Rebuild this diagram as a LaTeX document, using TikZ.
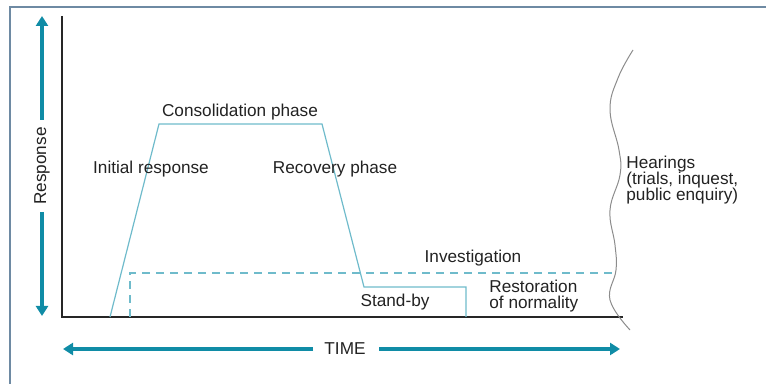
\documentclass[tikz,border=0pt]{standalone}
\usepackage{fontspec}
\setmainfont{Liberation Sans}
\usepackage{tikz}
\usetikzlibrary{arrows.meta}
\definecolor{framecol}{HTML}{6E8AA3}
\definecolor{arrowcol}{HTML}{108CA6}
\definecolor{phasecol}{HTML}{6FBBCB}
\definecolor{txtcol}{HTML}{222222}

\begin{document}
\begin{tikzpicture}[x=0.5pt, y=-0.5pt,
  lbl/.style={font=\fontsize{8.6}{8.2}\selectfont, text=txtcol, inner sep=0pt},
  axisarrow/.style={arrowcol, line width=1.8pt, -{Triangle[length=5pt,width=6pt]}}]
\useasboundingbox (0,0) rectangle (766,384);

% ---------------------------------------------------------------- frame
\draw[framecol, line width=0.6pt] (10,384) -- (10,7) -- (766,7);

% ---------------------------------------------------------------- axes
\coordinate (origin) at (62,317);
\coordinate (ytop) at (62,16);
\coordinate (xend) at (623,317);
\draw[black!85, line width=1.3pt] (ytop) -- (origin) -- (xend);

% response arrow, broken by its label
\node[lbl, rotate=90] (resp) at (42,166) {Response};
\draw[axisarrow] (42,120) -- (42,16);
\draw[axisarrow] (42,212) -- (42,316);

% time arrow, broken by its label
\node[lbl] (time) at (345,349) {TIME};
\draw[axisarrow] (313,349) -- (63,349);
\draw[axisarrow] (379,349) -- (620,349);

% ------------------------------------------------------- the response curve
\draw[phasecol, line width=0.6pt] (110,317) -- (159,124) -- (322,124)
  -- (364,287) -- (466,287) -- (466,317);

% investigation, dashed
\draw[phasecol, line width=0.6pt, dash pattern=on 4pt off 3pt]
  (130,317) -- (130,273) -- (613,273);

% hearings boundary, wavy
\draw[black!45, line width=0.5pt] plot[smooth, tension=0.7] coordinates
  {(633,50) (618,78) (610,110) (619,150) (620,175) (610,210) (615,245)
   (616,270) (610,300) (630,330)};

% ---------------------------------------------------------------- labels
\node[lbl] (consol) at (240,112) {Consolidation phase};
\node[lbl] (initial) at (151,169) {Initial response};
\node[lbl] (recov) at (335,169) {Recovery phase};
\node[lbl] (invest) at (473,258) {Investigation};
\node[lbl] (standby) at (395,302) {Stand-by};
\node[lbl, align=left, anchor=west] (restore) at (489,296)
  {Restoration\\of normality};
\node[lbl, align=left, anchor=west] (hear) at (626,180)
  {Hearings\\(trials, inquest,\\public enquiry)};

\end{tikzpicture}
\end{document}
